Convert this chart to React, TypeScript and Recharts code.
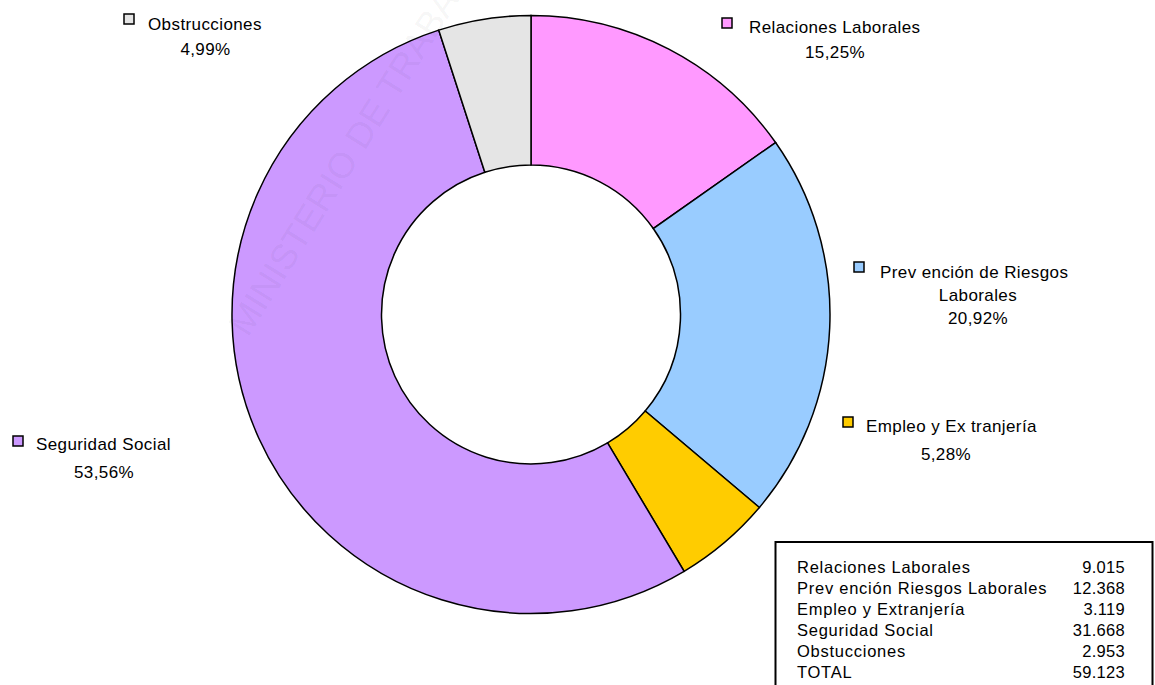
import { PieChart, Pie, Cell } from 'recharts'

const categories = [
  'Relaciones Laborales',
  'Prevención de Riesgos Laborales',
  'Empleo y Extranjería',
  'Seguridad Social',
  'Obstrucciones',
]
const values = [9015, 12368, 3119, 31668, 2953]
const colors = ['#ff99ff', '#99ccff', '#ffcc00', '#cc99ff', '#e5e5e5']

// how each slice label is broken into lines, as printed
const labelLines = [
  ['Relaciones Laborales'],
  ['Prev ención de Riesgos', 'Laborales'],
  ['Empleo y Ex tranjería'],
  ['Seguridad  Social'],
  ['Obstrucciones'],
]

const tableLabels = [
  'Relaciones Laborales',
  'Prev ención Riesgos Laborales',
  'Empleo y Extranjería',
  'Seguridad  Social',
  'Obstucciones',
  'TOTAL',
]

const total = values.reduce((a, b) => a + b, 0)
const data = categories.map((name, i) => ({ name, value: values[i] }))

const fmtInt = (n: number) => n.toLocaleString('de-DE')
const fmtPct = (p: number) => (p * 100).toFixed(2).replace('.', ',') + '%'

// label placement (square corner, first-line start, centre of following lines)
const labelLayout = [
  { sq: [722, 18], x: 749, y: 32.5, cx: 835, ys: [57.5] },
  { sq: [854, 262], x: 880, y: 277.5, cx: 978, ys: [300.5, 324] },
  { sq: [843, 417], x: 866, y: 432, cx: 946, ys: [459.5] },
  { sq: [13, 436], x: 36, y: 450, cx: 104, ys: [478] },
  { sq: [124, 14], x: 148, y: 29.5, cx: 205.5, ys: [54.5] },
]

const FONT = '"Liberation Sans", Arial, sans-serif'

const renderLabel = (props: any) => {
  const { index, percent } = props
  const l = labelLayout[index]
  const lines = labelLines[index]
  const rest = [...lines.slice(1), fmtPct(percent)]
  return (
    <g key={index}>
      <rect
        x={l.sq[0]}
        y={l.sq[1]}
        width={10}
        height={10}
        fill={colors[index]}
        stroke="#000"
        strokeWidth={1.5}
      />
      <text x={l.x} y={l.y} fontSize={17} fill="#000" fontFamily={FONT} letterSpacing={0.4}>
        {lines[0]}
      </text>
      {rest.map((t, j) => (
        <text
          key={j}
          x={l.cx}
          y={l.ys[j]}
          fontSize={17}
          fill="#000"
          fontFamily={FONT}
          textAnchor="middle"
          letterSpacing={0.4}
        >
          {t}
        </text>
      ))}
    </g>
  )
}

export default function App() {
  const rows = [...values, total]
  return (
    <div style={{ position: 'absolute', left: 0, top: 0, width: 1155, height: 685, background: '#fff' }}>
      <PieChart
        width={1155}
        height={685}
        margin={{ top: 0, right: 0, bottom: 0, left: 0 }}
        style={{ position: 'absolute', left: 0, top: 0 }}
      >
        <Pie
          data={data}
          dataKey="value"
          nameKey="name"
          cx={531}
          cy={314.5}
          innerRadius={149.5}
          outerRadius={299}
          startAngle={90}
          endAngle={-270}
          stroke="#000"
          strokeWidth={1.5}
          label={renderLabel}
          labelLine={false}
          isAnimationActive={false}
        >
          {data.map((d, i) => (
            <Cell key={d.name} fill={colors[i]} />
          ))}
        </Pie>
      </PieChart>
      <svg width={1155} height={685} style={{ position: 'absolute', left: 0, top: 0, pointerEvents: 'none' }}>
        <text
          x={248}
          y={338}
          transform="rotate(-58 248 338)"
          fontSize={36}
          fontFamily={FONT}
          fill="#000"
          fillOpacity={0.05}
        >
          MINISTERIO DE TRABAJO
        </text>
        <rect x={775.5} y={542} width={377} height={160} fill="#fff" stroke="#000" strokeWidth={2} />
        {tableLabels.map((t, i) => (
          <g key={t}>
            <text x={797} y={572.7 + i * 21.1} fontSize={16.5} fontFamily={FONT} letterSpacing={0.75} fill="#000">
              {t}
            </text>
            <text
              x={1125}
              y={572.7 + i * 21.1}
              fontSize={16.5}
              fontFamily={FONT}
              letterSpacing={0.3}
              textAnchor="end"
              fill="#000"
            >
              {fmtInt(rows[i])}
            </text>
          </g>
        ))}
      </svg>
    </div>
  )
}
